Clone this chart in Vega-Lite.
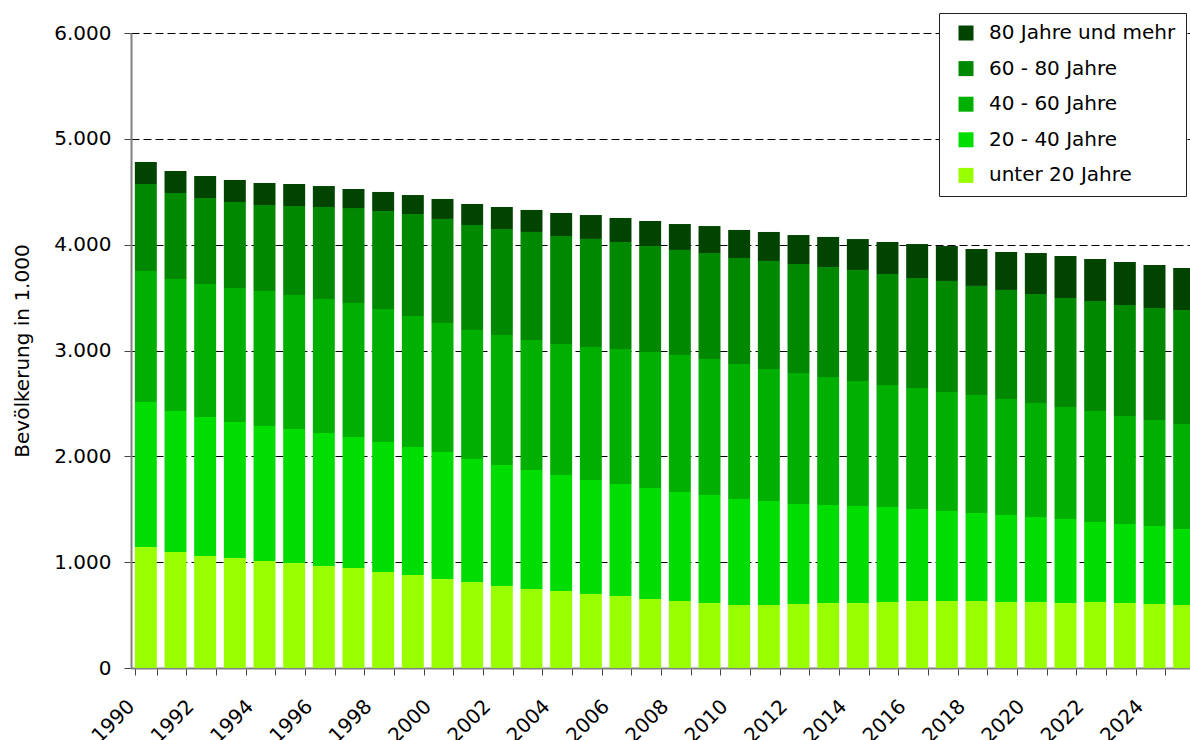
{
  "$schema": "https://vega.github.io/schema/vega-lite/v6.json",
  "width": 1059,
  "height": 635,
  "autosize": {"type": "none"},
  "padding": {"left": 131, "top": 33, "right": 0, "bottom": 72},
  "background": "white",
  "config": {"view": {"stroke": null}, "font": "DejaVu Sans"},
  "data": {
    "values": [
      {"Jahr": 1990, "unter 20 Jahre": 1143, "20 - 40 Jahre": 1370, "40 - 60 Jahre": 1238, "60 - 80 Jahre": 822, "80 Jahre und mehr": 208},
      {"Jahr": 1991, "unter 20 Jahre": 1096, "20 - 40 Jahre": 1332, "40 - 60 Jahre": 1248, "60 - 80 Jahre": 812, "80 Jahre und mehr": 208},
      {"Jahr": 1992, "unter 20 Jahre": 1058, "20 - 40 Jahre": 1314, "40 - 60 Jahre": 1256, "60 - 80 Jahre": 813, "80 Jahre und mehr": 208},
      {"Jahr": 1993, "unter 20 Jahre": 1039, "20 - 40 Jahre": 1285, "40 - 60 Jahre": 1267, "60 - 80 Jahre": 812, "80 Jahre und mehr": 208},
      {"Jahr": 1994, "unter 20 Jahre": 1011, "20 - 40 Jahre": 1276, "40 - 60 Jahre": 1275, "60 - 80 Jahre": 813, "80 Jahre und mehr": 208},
      {"Jahr": 1995, "unter 20 Jahre": 992, "20 - 40 Jahre": 1266, "40 - 60 Jahre": 1266, "60 - 80 Jahre": 841, "80 Jahre und mehr": 208},
      {"Jahr": 1996, "unter 20 Jahre": 964, "20 - 40 Jahre": 1257, "40 - 60 Jahre": 1266, "60 - 80 Jahre": 869, "80 Jahre und mehr": 198},
      {"Jahr": 1997, "unter 20 Jahre": 945, "20 - 40 Jahre": 1238, "40 - 60 Jahre": 1266, "60 - 80 Jahre": 897, "80 Jahre und mehr": 180},
      {"Jahr": 1998, "unter 20 Jahre": 907, "20 - 40 Jahre": 1228, "40 - 60 Jahre": 1257, "60 - 80 Jahre": 926, "80 Jahre und mehr": 180},
      {"Jahr": 1999, "unter 20 Jahre": 879, "20 - 40 Jahre": 1209, "40 - 60 Jahre": 1238, "60 - 80 Jahre": 964, "80 Jahre und mehr": 179},
      {"Jahr": 2000, "unter 20 Jahre": 841, "20 - 40 Jahre": 1200, "40 - 60 Jahre": 1219, "60 - 80 Jahre": 983, "80 Jahre und mehr": 189},
      {"Jahr": 2001, "unter 20 Jahre": 813, "20 - 40 Jahre": 1162, "40 - 60 Jahre": 1219, "60 - 80 Jahre": 992, "80 Jahre und mehr": 198},
      {"Jahr": 2002, "unter 20 Jahre": 775, "20 - 40 Jahre": 1143, "40 - 60 Jahre": 1229, "60 - 80 Jahre": 1001, "80 Jahre und mehr": 208},
      {"Jahr": 2003, "unter 20 Jahre": 746, "20 - 40 Jahre": 1125, "40 - 60 Jahre": 1228, "60 - 80 Jahre": 1021, "80 Jahre und mehr": 208},
      {"Jahr": 2004, "unter 20 Jahre": 728, "20 - 40 Jahre": 1096, "40 - 60 Jahre": 1238, "60 - 80 Jahre": 1020, "80 Jahre und mehr": 217},
      {"Jahr": 2005, "unter 20 Jahre": 699, "20 - 40 Jahre": 1077, "40 - 60 Jahre": 1257, "60 - 80 Jahre": 1021, "80 Jahre und mehr": 226},
      {"Jahr": 2006, "unter 20 Jahre": 680, "20 - 40 Jahre": 1059, "40 - 60 Jahre": 1275, "60 - 80 Jahre": 1011, "80 Jahre und mehr": 227},
      {"Jahr": 2007, "unter 20 Jahre": 652, "20 - 40 Jahre": 1049, "40 - 60 Jahre": 1285, "60 - 80 Jahre": 1001, "80 Jahre und mehr": 237},
      {"Jahr": 2008, "unter 20 Jahre": 633, "20 - 40 Jahre": 1030, "40 - 60 Jahre": 1295, "60 - 80 Jahre": 992, "80 Jahre und mehr": 245},
      {"Jahr": 2009, "unter 20 Jahre": 614, "20 - 40 Jahre": 1021, "40 - 60 Jahre": 1285, "60 - 80 Jahre": 1001, "80 Jahre und mehr": 255},
      {"Jahr": 2010, "unter 20 Jahre": 595, "20 - 40 Jahre": 1002, "40 - 60 Jahre": 1276, "60 - 80 Jahre": 1001, "80 Jahre und mehr": 265},
      {"Jahr": 2011, "unter 20 Jahre": 595, "20 - 40 Jahre": 983, "40 - 60 Jahre": 1247, "60 - 80 Jahre": 1021, "80 Jahre und mehr": 274},
      {"Jahr": 2012, "unter 20 Jahre": 605, "20 - 40 Jahre": 945, "40 - 60 Jahre": 1237, "60 - 80 Jahre": 1030, "80 Jahre und mehr": 274},
      {"Jahr": 2013, "unter 20 Jahre": 614, "20 - 40 Jahre": 926, "40 - 60 Jahre": 1210, "60 - 80 Jahre": 1039, "80 Jahre und mehr": 284},
      {"Jahr": 2014, "unter 20 Jahre": 614, "20 - 40 Jahre": 917, "40 - 60 Jahre": 1181, "60 - 80 Jahre": 1049, "80 Jahre und mehr": 292},
      {"Jahr": 2015, "unter 20 Jahre": 624, "20 - 40 Jahre": 897, "40 - 60 Jahre": 1153, "60 - 80 Jahre": 1049, "80 Jahre und mehr": 302},
      {"Jahr": 2016, "unter 20 Jahre": 633, "20 - 40 Jahre": 869, "40 - 60 Jahre": 1144, "60 - 80 Jahre": 1039, "80 Jahre und mehr": 321},
      {"Jahr": 2017, "unter 20 Jahre": 633, "20 - 40 Jahre": 851, "40 - 60 Jahre": 1124, "60 - 80 Jahre": 1049, "80 Jahre und mehr": 330},
      {"Jahr": 2018, "unter 20 Jahre": 633, "20 - 40 Jahre": 832, "40 - 60 Jahre": 1115, "60 - 80 Jahre": 1030, "80 Jahre und mehr": 349},
      {"Jahr": 2019, "unter 20 Jahre": 624, "20 - 40 Jahre": 822, "40 - 60 Jahre": 1096, "60 - 80 Jahre": 1030, "80 Jahre und mehr": 359},
      {"Jahr": 2020, "unter 20 Jahre": 624, "20 - 40 Jahre": 803, "40 - 60 Jahre": 1077, "60 - 80 Jahre": 1030, "80 Jahre und mehr": 387},
      {"Jahr": 2021, "unter 20 Jahre": 614, "20 - 40 Jahre": 794, "40 - 60 Jahre": 1058, "60 - 80 Jahre": 1030, "80 Jahre und mehr": 397},
      {"Jahr": 2022, "unter 20 Jahre": 624, "20 - 40 Jahre": 756, "40 - 60 Jahre": 1048, "60 - 80 Jahre": 1040, "80 Jahre und mehr": 397},
      {"Jahr": 2023, "unter 20 Jahre": 614, "20 - 40 Jahre": 747, "40 - 60 Jahre": 1020, "60 - 80 Jahre": 1049, "80 Jahre und mehr": 406},
      {"Jahr": 2024, "unter 20 Jahre": 605, "20 - 40 Jahre": 737, "40 - 60 Jahre": 1001, "60 - 80 Jahre": 1059, "80 Jahre und mehr": 406},
      {"Jahr": 2025, "unter 20 Jahre": 595, "20 - 40 Jahre": 718, "40 - 60 Jahre": 993, "60 - 80 Jahre": 1077, "80 Jahre und mehr": 397}
    ]
  },
  "transform": [
    {"fold": ["unter 20 Jahre", "20 - 40 Jahre", "40 - 60 Jahre", "60 - 80 Jahre", "80 Jahre und mehr"], "as": ["Gruppe", "Wert"]},
    {"calculate": "indexof(['unter 20 Jahre', '20 - 40 Jahre', '40 - 60 Jahre', '60 - 80 Jahre', '80 Jahre und mehr'], datum.Gruppe)", "as": "Reihenfolge"}
  ],
  "mark": {"type": "bar", "strokeWidth": 0},
  "encoding": {
    "x": {
      "field": "Jahr",
      "type": "ordinal",
      "scale": {"range": [0, 1068], "paddingInner": 0.26, "paddingOuter": 0.13},
      "axis": {
        "title": null,
        "labelAngle": -45,
        "labelAlign": "right",
        "labelBaseline": "middle",
        "labelExpr": "datum.value % 2 == 0 ? datum.label : ''",
        "labelOverlap": false,
        "tickBand": "extent",
        "labelOffset": -14.8,
        "tickSize": 7,
        "tickColor": "#444444",
        "domainColor": "#808080",
        "domainWidth": 2,
        "labelPadding": 28,
        "labelFont": "DejaVu Sans",
        "labelFontSize": 20,
        "labelColor": "black",
        "grid": false
      }
    },
    "y": {
      "field": "Wert",
      "type": "quantitative",
      "stack": "zero",
      "scale": {"domain": [0, 6000], "nice": false},
      "axis": {
        "values": [0, 1000, 2000, 3000, 4000, 5000, 6000],
        "title": "Bevölkerung in 1.000",
        "titleFont": "DejaVu Sans",
        "titleFontSize": 20,
        "titleFontWeight": "normal",
        "titleColor": "black",
        "titlePadding": 21,
        "labelExpr": "replace(format(datum.value, ','), ',', '.')",
        "labelFont": "DejaVu Sans",
        "labelFontSize": 20,
        "labelColor": "black",
        "labelPadding": 13,
        "tickSize": 7,
        "tickColor": "#444444",
        "domainColor": "#808080",
        "domainWidth": 2,
        "grid": true,
        "gridColor": "black",
        "gridDash": [8, 4],
        "gridWidth": 1,
        "gridOpacity": 1
      }
    },
    "color": {
      "field": "Gruppe",
      "type": "nominal",
      "scale": {
        "domain": ["80 Jahre und mehr", "60 - 80 Jahre", "40 - 60 Jahre", "20 - 40 Jahre", "unter 20 Jahre"],
        "range": ["#004400", "#008800", "#00B000", "#00DD00", "#99FF00"]
      },
      "legend": {
        "title": null,
        "orient": "none",
        "legendX": 808,
        "legendY": -20,
        "strokeColor": "#222222",
        "fillColor": "white",
        "padding": 10,
        "symbolType": "square",
        "symbolSize": 225,
        "symbolStrokeWidth": 0,
        "symbolOpacity": 1,
        "symbolOffset": 7,
        "labelOffset": 13,
        "rowPadding": 15.6,
        "labelFont": "DejaVu Sans",
        "labelFontSize": 20,
        "labelColor": "black",
        "labelLimit": 400
      }
    },
    "order": {"field": "Reihenfolge", "type": "quantitative"}
  }
}
